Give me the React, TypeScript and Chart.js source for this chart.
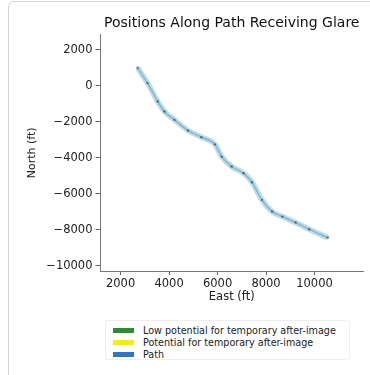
import React, { useEffect, useRef } from "react";
import { Chart, registerables } from "chart.js";

Chart.register(...registerables);

const chartTitle = "Positions Along Path Receiving Glare";
const xAxisTitle = "East (ft)";
const yAxisTitle = "North (ft)";

const eastFt = [2700, 3110, 3530, 3810, 4220, 4780, 5330, 5890, 6170, 6580, 7070, 7420, 7830, 8250, 8670, 9220, 9780, 10550];
const northFt = [1000, 150, -870, -1430, -1890, -2480, -2850, -3250, -3930, -4480, -4850, -5350, -6330, -6980, -7260, -7590, -7960, -8430];

const xTicks = [2000, 4000, 6000, 8000, 10000];
const yTicks = [2000, 0, -2000, -4000, -6000, -8000, -10000];
const xRange = [1170, 12000];
const yRange = [-10280, 2830];

const legendLabels = [
  "Low potential for temporary after-image",
  "Potential for temporary after-image",
  "Path",
];
const legendColors = ["#2f8a36", "#f5ea1c", "#3274c0"];

const FONT = "'DejaVu Sans', sans-serif";

export default function App() {
  const ref = useRef<HTMLCanvasElement | null>(null);

  useEffect(() => {
    if (!ref.current) return;
    const pts = eastFt.map((x, i) => ({ x, y: northFt[i] }));
    const fmt = (v: number) => (v < 0 ? "\u2212" + Math.abs(v) : String(v));
    const chart = new Chart(ref.current, {
      type: "scatter",
      data: {
        datasets: [
          {
            label: legendLabels[0],
            data: pts,
            showLine: true,
            borderColor: "rgba(80,130,120,0.5)",
            borderWidth: 1.2,
            pointRadius: 1.2,
            pointBackgroundColor: "rgba(40,80,70,0.7)",
            pointBorderWidth: 0,
            tension: 0.4,
            cubicInterpolationMode: "monotone",
          },
          {
            label: legendLabels[1],
            data: [],
            showLine: true,
            borderColor: legendColors[1],
          },
          {
            label: legendLabels[2],
            data: pts,
            showLine: true,
            borderColor: "rgba(140,195,228,0.6)",
            borderWidth: 5.5,
            pointRadius: 0,
            tension: 0.4,
            cubicInterpolationMode: "monotone",
          },
        ],
      },
      options: {
        animation: false,
        responsive: false,
        maintainAspectRatio: false,
        layout: { padding: { left: 0, right: 7, top: 0, bottom: 0 } },
        plugins: {
          legend: { display: false },
          tooltip: { enabled: false },
          title: {
            display: true,
            text: chartTitle,
            fullSize: false,
            color: "#111",
            font: { family: FONT, size: 14, weight: "normal" },
            padding: { top: 15, bottom: 3 },
          },
        },
        scales: {
          x: {
            type: "linear",
            min: xRange[0],
            max: xRange[1],
            afterBuildTicks: (s: any) => {
              s.ticks = xTicks.map((v) => ({ value: v }));
            },
            afterFit: (s: any) => {
              s.height = 34;
            },
            ticks: {
              color: "#222",
              font: { family: FONT, size: 11.5 },
              padding: 2,
              maxRotation: 0,
              callback: (v: any) => fmt(Number(v)),
            },
            grid: { drawOnChartArea: false, tickLength: 4, color: "#666" },
            border: { color: "#777", width: 1 },
            title: {
              display: true,
              text: xAxisTitle,
              color: "#222",
              font: { family: FONT, size: 11.5 },
              padding: { top: 2, bottom: 1 },
            },
          },
          y: {
            type: "linear",
            min: yRange[0],
            max: yRange[1],
            afterBuildTicks: (s: any) => {
              s.ticks = yTicks.map((v) => ({ value: v }));
            },
            afterFit: (s: any) => {
              s.width = 100.5;
            },
            ticks: {
              color: "#222",
              font: { family: FONT, size: 11.5 },
              padding: 3,
              callback: (v: any) => fmt(Number(v)),
            },
            grid: { drawOnChartArea: false, tickLength: 5, color: "#666" },
            border: { color: "#777", width: 1 },
            title: {
              display: true,
              text: yAxisTitle,
              color: "#222",
              font: { family: FONT, size: 11 },
              padding: { top: 26, bottom: 0 },
            },
          },
        },
      },
    } as any);
    return () => chart.destroy();
  }, []);

  return (
    <div style={{ position: "fixed", left: 0, top: 0, width: 370, height: 375, background: "#fff", overflow: "hidden" }}>
      <div
        style={{
          position: "absolute",
          left: 8,
          top: 1,
          width: 400,
          height: 420,
          border: "1px solid #d4d4d4",
          borderRadius: 6,
          boxSizing: "border-box",
        }}
      />
      <canvas ref={ref} width={370} height={305} style={{ position: "absolute", left: 0, top: 0, width: 370, height: 305 }} />
      <div
        style={{
          position: "absolute",
          left: 105,
          top: 320,
          width: 245,
          height: 40,
          border: "1px solid #eeeeee",
          borderRadius: 3,
          boxSizing: "border-box",
        }}
      />
      {legendLabels.map((lab, i) => (
        <div
          key={lab}
          style={{
            position: "absolute",
            left: 113,
            top: 324 + i * 12,
            height: 12,
            display: "flex",
            alignItems: "center",
            fontFamily: FONT,
            fontSize: 9.6,
            color: "#222",
            whiteSpace: "nowrap",
          }}
        >
          <span style={{ display: "inline-block", width: 21, height: 5, background: legendColors[i], marginRight: 9 }} />
          <span>{lab}</span>
        </div>
      ))}
    </div>
  );
}
